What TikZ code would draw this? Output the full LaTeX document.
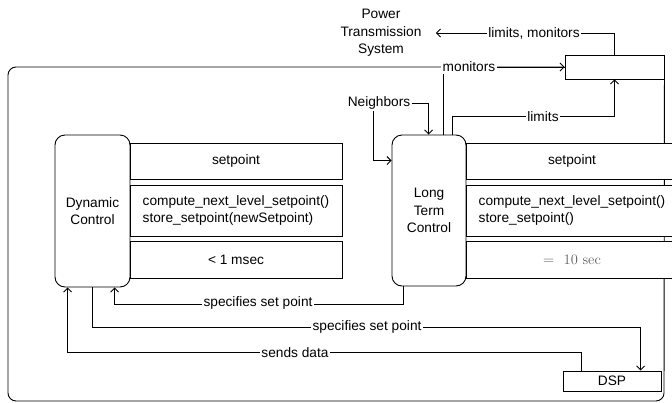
\documentclass[tikz,border=0pt]{standalone}
\usepackage{fontspec}
\setsansfont{Liberation Sans}
\usetikzlibrary{arrows.meta,calc}
\definecolor{dimtext}{RGB}{96,96,96}

\begin{document}
\begin{tikzpicture}[x=1pt,y=-1pt,
  font=\sffamily\fontsize{13.7}{17.5}\selectfont,
  line width=0.9pt,
  arr/.style={-{Straight Barb[length=4pt,width=8pt,line width=0.9pt]}},
  ctrl/.style={draw, fill=white, rounded corners=10pt, align=center, inner sep=0pt},
  row/.style={draw, fill=white, minimum width=212pt, align=left, inner sep=0pt},
  plainbox/.style={draw, fill=white, inner sep=0pt},
  lbl/.style={fill=white, inner sep=1.5pt},
  free/.style={align=center, inner sep=1pt}]

\useasboundingbox (0,0) rectangle (672,402);

% --- boxes at the top right ---
\node[plainbox, minimum width=99pt, minimum height=24pt] (sb) at (614.5,67) {};
\node[free, inner xsep=14pt] (pts) at (381,33) {Power\\Transmission\\System};
\node[free] (nb) at (379,103) {Neighbors};

% loop around the whole system back into the top box
\draw[arr, rounded corners=8pt] (sb.south east) -- (664,401) -- (8,401) -- (8,67) -- (sb.west);

% --- controllers ---
\node[ctrl, minimum width=75pt, minimum height=152pt] (dc) at (92.5,211) {Dynamic\\Control};
\node[ctrl, minimum width=74pt, minimum height=151pt] (lt) at (429,210.5) {Long\\Term\\Control};

% class-like tables
\node[row, minimum height=36pt, align=center] (dc1) at (236,161) {setpoint};
\node[row, minimum height=51pt] (dc2) at (236,210.5) {compute\_next\_level\_setpoint()\\store\_setpoint(newSetpoint)};
\node[row, minimum height=37pt, align=center] (dc3) at (236,259.5) {< 1 msec};

\node[row, minimum height=36pt, align=center] (lt1) at (572,161) {setpoint};
\node[row, minimum height=51pt] (lt2) at (572,210.5) {compute\_next\_level\_setpoint()\\store\_setpoint()};
\node[row, minimum height=37pt, align=center, text=dimtext] (lt3) at (572,259.5) {\rmfamily\fontsize{14.5}{17}\selectfont =\ \ 10 sec};

\node[plainbox, minimum width=98pt, minimum height=20pt] (dsp) at (612,381) {DSP};

% --- connectors ---
\draw ($(lt.north west)+(52,0)$) |- (sb.west);
\draw[arr] ($(lt.north west)+(61,0)$) -- ++(0,-18) -| (sb.south);
\draw[arr] (sb.north) |- (pts.east);
\draw[arr] (nb.east) -| ($(lt.north west)+(37,0)$);
\draw[arr] ($(nb.south)+(-6,0)$) |- ($(lt.north west)+(0,26)$);

\draw[arr] ($(lt.south west)+(12,0)$) -- ++(0,17.5) -| ($(dc.south west)+(60,0)$);
\draw[arr] ($(dc.south west)+(38,0)$) -- ++(0,40) -| ($(dsp.north west)+(78,0)$);
\draw[arr] ($(dsp.north west)+(19,0)$) -- ++(0,-18) -| ($(dc.south west)+(13,0)$);

% --- connector labels ---
\node[lbl] at (534,33) {limits, monitors};
\node[lbl] at (469,67) {monitors};
\node[lbl] at (543,117) {limits};
\node[lbl] at (258,303) {specifies set point};
\node[lbl] at (367,327) {specifies set point};
\node[lbl] at (295,353) {sends data};
\end{tikzpicture}
\end{document}
